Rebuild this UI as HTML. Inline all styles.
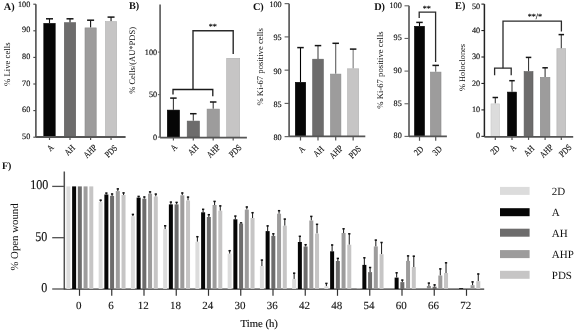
<!DOCTYPE html><html><head><meta charset="utf-8"><style>html,body{margin:0;padding:0;background:#fff;width:575px;height:330px;overflow:hidden}svg{display:block;will-change:transform}text{font-family:"Liberation Serif",serif;fill:#111;text-rendering:geometricPrecision}</style></head><body>
<svg width="575" height="330" viewBox="0 0 575 330">
<rect width="575" height="330" fill="#fff"/>
<text x="3.80" y="9.70" font-size="10.3" text-anchor="start" font-weight="bold">A)</text>
<line x1="35.90" y1="4.20" x2="35.90" y2="137.00" stroke="#444" stroke-width="1.5"/>
<line x1="33.30" y1="4.20" x2="35.90" y2="4.20" stroke="#444" stroke-width="1.1"/>
<text x="30.30" y="7.05" font-size="8.2" text-anchor="end" font-weight="normal" stroke="#111" stroke-width="0.15">100</text>
<line x1="33.30" y1="30.80" x2="35.90" y2="30.80" stroke="#444" stroke-width="1.1"/>
<text x="30.30" y="32.35" font-size="8.2" text-anchor="end" font-weight="normal" stroke="#111" stroke-width="0.15">90</text>
<line x1="33.30" y1="57.40" x2="35.90" y2="57.40" stroke="#444" stroke-width="1.1"/>
<text x="30.30" y="58.95" font-size="8.2" text-anchor="end" font-weight="normal" stroke="#111" stroke-width="0.15">80</text>
<line x1="33.30" y1="84.00" x2="35.90" y2="84.00" stroke="#444" stroke-width="1.1"/>
<text x="30.30" y="85.55" font-size="8.2" text-anchor="end" font-weight="normal" stroke="#111" stroke-width="0.15">70</text>
<line x1="33.30" y1="110.60" x2="35.90" y2="110.60" stroke="#444" stroke-width="1.1"/>
<text x="30.30" y="112.15" font-size="8.2" text-anchor="end" font-weight="normal" stroke="#111" stroke-width="0.15">60</text>
<line x1="33.30" y1="137.20" x2="35.90" y2="137.20" stroke="#444" stroke-width="1.1"/>
<text x="30.30" y="138.75" font-size="8.2" text-anchor="end" font-weight="normal" stroke="#111" stroke-width="0.15">50</text>
<text x="10.00" y="64.20" font-size="8.7" text-anchor="middle" font-weight="normal" transform="rotate(-90 10.00 64.20)">% Live cells</text>
<line x1="49.50" y1="18.80" x2="49.50" y2="23.10" stroke="#111" stroke-width="1.1"/>
<line x1="46.00" y1="18.80" x2="53.00" y2="18.80" stroke="#151515" stroke-width="1.5"/>
<rect x="43.80" y="23.40" width="11.40" height="113.60" fill="#060606" stroke="#000" stroke-width="0.6"/>
<line x1="70.00" y1="18.80" x2="70.00" y2="22.40" stroke="#111" stroke-width="1.1"/>
<line x1="66.50" y1="18.80" x2="73.50" y2="18.80" stroke="#151515" stroke-width="1.5"/>
<rect x="64.30" y="22.70" width="11.40" height="114.30" fill="#6d6c6c" stroke="#5c5c5c" stroke-width="0.6"/>
<line x1="90.60" y1="20.20" x2="90.60" y2="27.60" stroke="#111" stroke-width="1.1"/>
<line x1="87.10" y1="20.20" x2="94.10" y2="20.20" stroke="#151515" stroke-width="1.5"/>
<rect x="85.00" y="27.90" width="11.20" height="109.10" fill="#9d9c9c" stroke="#8a8a8a" stroke-width="0.6"/>
<line x1="111.05" y1="17.10" x2="111.05" y2="21.30" stroke="#111" stroke-width="1.1"/>
<line x1="107.55" y1="17.10" x2="114.55" y2="17.10" stroke="#151515" stroke-width="1.5"/>
<rect x="105.50" y="21.60" width="11.10" height="115.40" fill="#c6c5c5" stroke="#b0b0b0" stroke-width="0.6"/>
<line x1="35.90" y1="137.00" x2="125.60" y2="137.00" stroke="#555" stroke-width="1.8"/>
<line x1="49.50" y1="137.00" x2="49.50" y2="140.00" stroke="#555" stroke-width="1.2"/>
<text transform="translate(54.20 148.00) rotate(-45) scale(0.82,1)" font-size="9.0" text-anchor="end" stroke="#111" stroke-width="0.15">A</text>
<line x1="70.00" y1="137.00" x2="70.00" y2="140.00" stroke="#555" stroke-width="1.2"/>
<text transform="translate(75.50 148.40) rotate(-45) scale(0.82,1)" font-size="9.0" text-anchor="end" stroke="#111" stroke-width="0.15">AH</text>
<line x1="90.60" y1="137.00" x2="90.60" y2="140.00" stroke="#555" stroke-width="1.2"/>
<text transform="translate(97.50 148.00) rotate(-45) scale(0.82,1)" font-size="9.0" text-anchor="end" stroke="#111" stroke-width="0.15">AHP</text>
<line x1="111.05" y1="137.00" x2="111.05" y2="140.00" stroke="#555" stroke-width="1.2"/>
<text transform="translate(117.95 148.50) rotate(-45) scale(0.82,1)" font-size="9.0" text-anchor="end" stroke="#111" stroke-width="0.15">PDS</text>
<text x="129.00" y="9.30" font-size="10.3" text-anchor="start" font-weight="bold">B)</text>
<line x1="160.10" y1="4.50" x2="160.10" y2="137.60" stroke="#6a6a6a" stroke-width="1.8"/>
<line x1="157.90" y1="52.10" x2="160.10" y2="52.10" stroke="#6a6a6a" stroke-width="1.1"/>
<text x="157.10" y="54.65" font-size="8.2" text-anchor="end" font-weight="normal" stroke="#111" stroke-width="0.15">100</text>
<line x1="157.90" y1="94.60" x2="160.10" y2="94.60" stroke="#6a6a6a" stroke-width="1.1"/>
<text x="157.10" y="97.15" font-size="8.2" text-anchor="end" font-weight="normal" stroke="#111" stroke-width="0.15">50</text>
<line x1="157.90" y1="137.10" x2="160.10" y2="137.10" stroke="#6a6a6a" stroke-width="1.1"/>
<text x="157.10" y="139.65" font-size="8.2" text-anchor="end" font-weight="normal" stroke="#111" stroke-width="0.15">0</text>
<text x="135.50" y="60.40" font-size="8.5" text-anchor="middle" font-weight="normal" transform="rotate(-90 135.50 60.40)">% Cells/(AU*PDS)</text>
<line x1="173.40" y1="98.10" x2="173.40" y2="109.80" stroke="#3a3a3a" stroke-width="1.1"/>
<line x1="170.15" y1="98.10" x2="176.65" y2="98.10" stroke="#151515" stroke-width="1.5"/>
<rect x="167.30" y="110.10" width="12.20" height="27.00" fill="#060606" stroke="#000" stroke-width="0.6"/>
<line x1="193.30" y1="113.70" x2="193.30" y2="120.80" stroke="#3a3a3a" stroke-width="1.1"/>
<line x1="190.05" y1="113.70" x2="196.55" y2="113.70" stroke="#151515" stroke-width="1.5"/>
<rect x="187.20" y="121.10" width="12.20" height="16.00" fill="#6d6c6c" stroke="#5c5c5c" stroke-width="0.6"/>
<line x1="213.20" y1="102.00" x2="213.20" y2="108.80" stroke="#3a3a3a" stroke-width="1.1"/>
<line x1="209.95" y1="102.00" x2="216.45" y2="102.00" stroke="#151515" stroke-width="1.5"/>
<rect x="207.10" y="109.10" width="12.20" height="28.00" fill="#9d9c9c" stroke="#8a8a8a" stroke-width="0.6"/>
<rect x="226.70" y="58.30" width="13.00" height="78.80" fill="#c6c5c5" stroke="#b0b0b0" stroke-width="0.6"/>
<line x1="160.10" y1="137.60" x2="246.90" y2="137.60" stroke="#555" stroke-width="1.8"/>
<line x1="173.40" y1="137.60" x2="173.40" y2="140.60" stroke="#555" stroke-width="1.2"/>
<text transform="translate(177.80 147.80) rotate(-45) scale(0.82,1)" font-size="9.0" text-anchor="end" stroke="#111" stroke-width="0.15">A</text>
<line x1="193.30" y1="137.60" x2="193.30" y2="140.60" stroke="#555" stroke-width="1.2"/>
<text transform="translate(199.00 148.10) rotate(-45) scale(0.82,1)" font-size="9.0" text-anchor="end" stroke="#111" stroke-width="0.15">AH</text>
<line x1="213.20" y1="137.60" x2="213.20" y2="140.60" stroke="#555" stroke-width="1.2"/>
<text transform="translate(220.60 147.80) rotate(-45) scale(0.82,1)" font-size="9.0" text-anchor="end" stroke="#111" stroke-width="0.15">AHP</text>
<line x1="233.20" y1="137.60" x2="233.20" y2="140.60" stroke="#555" stroke-width="1.2"/>
<text transform="translate(242.10 148.10) rotate(-45) scale(0.82,1)" font-size="9.0" text-anchor="end" stroke="#111" stroke-width="0.15">PDS</text>
<polyline points="193,89.5 193,30.8 233.2,30.8 233.2,54" fill="none" stroke="#2a2a2a" stroke-width="1.4"/>
<polyline points="173,94.6 173,89.5 212.8,89.5 212.8,96.3" fill="none" stroke="#1a1a1a" stroke-width="1.3"/>
<text x="212.70" y="29.00" font-size="8" text-anchor="middle" font-weight="normal" stroke="#111" stroke-width="0.2">**</text>
<text x="252.90" y="9.70" font-size="10.3" text-anchor="start" font-weight="bold">C)</text>
<line x1="289.10" y1="3.65" x2="289.10" y2="136.30" stroke="#5a5a5a" stroke-width="1.7"/>
<line x1="284.60" y1="3.65" x2="289.10" y2="3.65" stroke="#5a5a5a" stroke-width="1.1"/>
<text x="281.70" y="7.20" font-size="8.2" text-anchor="end" font-weight="normal" stroke="#111" stroke-width="0.15">100</text>
<line x1="284.60" y1="36.90" x2="289.10" y2="36.90" stroke="#5a5a5a" stroke-width="1.1"/>
<text x="281.70" y="40.45" font-size="8.2" text-anchor="end" font-weight="normal" stroke="#111" stroke-width="0.15">95</text>
<line x1="284.60" y1="70.15" x2="289.10" y2="70.15" stroke="#5a5a5a" stroke-width="1.1"/>
<text x="281.70" y="73.70" font-size="8.2" text-anchor="end" font-weight="normal" stroke="#111" stroke-width="0.15">90</text>
<line x1="284.60" y1="103.40" x2="289.10" y2="103.40" stroke="#5a5a5a" stroke-width="1.1"/>
<text x="281.70" y="106.95" font-size="8.2" text-anchor="end" font-weight="normal" stroke="#111" stroke-width="0.15">85</text>
<line x1="284.60" y1="136.65" x2="289.10" y2="136.65" stroke="#5a5a5a" stroke-width="1.1"/>
<text x="281.70" y="140.20" font-size="8.2" text-anchor="end" font-weight="normal" stroke="#111" stroke-width="0.15">80</text>
<text x="263.30" y="66.80" font-size="8.7" text-anchor="middle" font-weight="normal" transform="rotate(-90 263.30 66.80)">% Ki-67 positive cells</text>
<line x1="300.50" y1="47.60" x2="300.50" y2="82.00" stroke="#000" stroke-width="1.1"/>
<line x1="297.25" y1="47.60" x2="303.75" y2="47.60" stroke="#151515" stroke-width="1.5"/>
<rect x="295.30" y="82.30" width="10.40" height="54.00" fill="#060606" stroke="#000" stroke-width="0.6"/>
<line x1="318.00" y1="45.60" x2="318.00" y2="58.90" stroke="#4a4a4a" stroke-width="1.1"/>
<line x1="314.75" y1="45.60" x2="321.25" y2="45.60" stroke="#151515" stroke-width="1.5"/>
<rect x="312.70" y="59.20" width="10.60" height="77.10" fill="#6d6c6c" stroke="#5c5c5c" stroke-width="0.6"/>
<line x1="335.70" y1="43.30" x2="335.70" y2="73.80" stroke="#5e5e5e" stroke-width="1.1"/>
<line x1="332.45" y1="43.30" x2="338.95" y2="43.30" stroke="#151515" stroke-width="1.5"/>
<rect x="330.50" y="74.10" width="10.40" height="62.20" fill="#9d9c9c" stroke="#8a8a8a" stroke-width="0.6"/>
<line x1="353.15" y1="49.10" x2="353.15" y2="68.50" stroke="#7a7a7a" stroke-width="1.1"/>
<line x1="349.90" y1="49.10" x2="356.40" y2="49.10" stroke="#151515" stroke-width="1.5"/>
<rect x="347.60" y="68.80" width="11.10" height="67.50" fill="#c6c5c5" stroke="#b0b0b0" stroke-width="0.6"/>
<line x1="289.10" y1="136.30" x2="365.30" y2="136.30" stroke="#555" stroke-width="1.8"/>
<line x1="300.50" y1="136.30" x2="300.50" y2="140.50" stroke="#555" stroke-width="1.2"/>
<text transform="translate(305.50 149.50) rotate(-45) scale(0.82,1)" font-size="9.0" text-anchor="end" stroke="#111" stroke-width="0.15">A</text>
<line x1="318.00" y1="136.30" x2="318.00" y2="140.50" stroke="#555" stroke-width="1.2"/>
<text transform="translate(324.40 149.80) rotate(-45) scale(0.82,1)" font-size="9.0" text-anchor="end" stroke="#111" stroke-width="0.15">AH</text>
<line x1="335.70" y1="136.30" x2="335.70" y2="140.50" stroke="#555" stroke-width="1.2"/>
<text transform="translate(343.50 148.80) rotate(-45) scale(0.82,1)" font-size="9.0" text-anchor="end" stroke="#111" stroke-width="0.15">AHP</text>
<line x1="353.15" y1="136.30" x2="353.15" y2="140.50" stroke="#555" stroke-width="1.2"/>
<text transform="translate(361.75 149.30) rotate(-45) scale(0.82,1)" font-size="9.0" text-anchor="end" stroke="#111" stroke-width="0.15">PDS</text>
<text x="374.20" y="9.70" font-size="10.3" text-anchor="start" font-weight="bold">D)</text>
<line x1="409.00" y1="5.80" x2="409.00" y2="136.30" stroke="#666" stroke-width="1.8"/>
<line x1="404.50" y1="5.80" x2="409.00" y2="5.80" stroke="#666" stroke-width="1.1"/>
<text x="401.80" y="7.55" font-size="8.2" text-anchor="end" font-weight="normal" stroke="#111" stroke-width="0.15">100</text>
<line x1="404.50" y1="38.45" x2="409.00" y2="38.45" stroke="#666" stroke-width="1.1"/>
<text x="401.80" y="40.20" font-size="8.2" text-anchor="end" font-weight="normal" stroke="#111" stroke-width="0.15">95</text>
<line x1="404.50" y1="71.10" x2="409.00" y2="71.10" stroke="#666" stroke-width="1.1"/>
<text x="401.80" y="72.85" font-size="8.2" text-anchor="end" font-weight="normal" stroke="#111" stroke-width="0.15">90</text>
<line x1="404.50" y1="103.75" x2="409.00" y2="103.75" stroke="#666" stroke-width="1.1"/>
<text x="401.80" y="105.50" font-size="8.2" text-anchor="end" font-weight="normal" stroke="#111" stroke-width="0.15">85</text>
<line x1="404.50" y1="136.40" x2="409.00" y2="136.40" stroke="#666" stroke-width="1.1"/>
<text x="401.80" y="138.15" font-size="8.2" text-anchor="end" font-weight="normal" stroke="#111" stroke-width="0.15">80</text>
<text x="382.80" y="70.00" font-size="8.7" text-anchor="middle" font-weight="normal" transform="rotate(-90 382.80 70.00)">% Ki-67 positive cells</text>
<line x1="419.50" y1="22.40" x2="419.50" y2="26.00" stroke="#000" stroke-width="1.1"/>
<line x1="416.25" y1="22.40" x2="422.75" y2="22.40" stroke="#151515" stroke-width="1.5"/>
<rect x="414.50" y="26.30" width="10.00" height="110.00" fill="#060606" stroke="#000" stroke-width="0.6"/>
<line x1="435.70" y1="65.40" x2="435.70" y2="71.80" stroke="#5e5e5e" stroke-width="1.1"/>
<line x1="432.45" y1="65.40" x2="438.95" y2="65.40" stroke="#151515" stroke-width="1.5"/>
<rect x="430.40" y="72.10" width="10.60" height="64.20" fill="#9d9c9c" stroke="#8a8a8a" stroke-width="0.6"/>
<line x1="409.00" y1="136.30" x2="446.90" y2="136.30" stroke="#555" stroke-width="1.8"/>
<line x1="419.50" y1="136.30" x2="419.50" y2="140.80" stroke="#555" stroke-width="1.2"/>
<text transform="translate(423.90 149.70) rotate(-45) scale(0.82,1)" font-size="9.0" text-anchor="end" stroke="#111" stroke-width="0.15">2D</text>
<line x1="435.70" y1="136.30" x2="435.70" y2="140.80" stroke="#555" stroke-width="1.2"/>
<text transform="translate(442.50 149.60) rotate(-45) scale(0.82,1)" font-size="9.0" text-anchor="end" stroke="#111" stroke-width="0.15">3D</text>
<polyline points="419.2,17.9 419.2,12.1 435.6,12.1 435.6,62" fill="none" stroke="#2a2a2a" stroke-width="1.3"/>
<text x="426.80" y="10.50" font-size="8" text-anchor="middle" font-weight="normal" stroke="#111" stroke-width="0.2">**</text>
<text x="455.10" y="9.20" font-size="10.3" text-anchor="start" font-weight="bold">E)</text>
<line x1="484.40" y1="4.10" x2="484.40" y2="136.90" stroke="#222" stroke-width="1.5"/>
<line x1="481.40" y1="4.10" x2="484.40" y2="4.10" stroke="#222" stroke-width="1.1"/>
<text x="480.20" y="8.55" font-size="8.2" text-anchor="end" font-weight="normal" stroke="#111" stroke-width="0.15">50</text>
<line x1="481.40" y1="30.55" x2="484.40" y2="30.55" stroke="#222" stroke-width="1.1"/>
<text x="480.20" y="32.60" font-size="8.2" text-anchor="end" font-weight="normal" stroke="#111" stroke-width="0.15">40</text>
<line x1="481.40" y1="57.00" x2="484.40" y2="57.00" stroke="#222" stroke-width="1.1"/>
<text x="480.20" y="59.05" font-size="8.2" text-anchor="end" font-weight="normal" stroke="#111" stroke-width="0.15">30</text>
<line x1="481.40" y1="83.45" x2="484.40" y2="83.45" stroke="#222" stroke-width="1.1"/>
<text x="480.20" y="85.50" font-size="8.2" text-anchor="end" font-weight="normal" stroke="#111" stroke-width="0.15">20</text>
<line x1="481.40" y1="109.90" x2="484.40" y2="109.90" stroke="#222" stroke-width="1.1"/>
<text x="480.20" y="111.95" font-size="8.2" text-anchor="end" font-weight="normal" stroke="#111" stroke-width="0.15">10</text>
<line x1="481.40" y1="136.35" x2="484.40" y2="136.35" stroke="#222" stroke-width="1.1"/>
<text x="480.20" y="138.40" font-size="8.2" text-anchor="end" font-weight="normal" stroke="#111" stroke-width="0.15">0</text>
<text x="464.70" y="67.50" font-size="8.4" text-anchor="middle" font-weight="normal" transform="rotate(-90 464.70 67.50)">% Holoclones</text>
<line x1="495.30" y1="97.50" x2="495.30" y2="103.60" stroke="#3a3a3a" stroke-width="1.1"/>
<line x1="492.55" y1="97.50" x2="498.05" y2="97.50" stroke="#151515" stroke-width="1.5"/>
<rect x="491.00" y="103.90" width="8.60" height="32.40" fill="#dcdcdc" stroke="#c8c8c8" stroke-width="0.6"/>
<line x1="512.00" y1="80.70" x2="512.00" y2="91.80" stroke="#3a3a3a" stroke-width="1.1"/>
<line x1="509.25" y1="80.70" x2="514.75" y2="80.70" stroke="#151515" stroke-width="1.5"/>
<rect x="507.50" y="92.10" width="9.00" height="44.20" fill="#060606" stroke="#000" stroke-width="0.6"/>
<line x1="528.55" y1="57.40" x2="528.55" y2="71.30" stroke="#3a3a3a" stroke-width="1.1"/>
<line x1="525.80" y1="57.40" x2="531.30" y2="57.40" stroke="#151515" stroke-width="1.5"/>
<rect x="524.10" y="71.60" width="8.90" height="64.70" fill="#6d6c6c" stroke="#5c5c5c" stroke-width="0.6"/>
<line x1="545.10" y1="67.80" x2="545.10" y2="77.00" stroke="#3a3a3a" stroke-width="1.1"/>
<line x1="542.35" y1="67.80" x2="547.85" y2="67.80" stroke="#151515" stroke-width="1.5"/>
<rect x="540.30" y="77.30" width="9.60" height="59.00" fill="#9d9c9c" stroke="#8a8a8a" stroke-width="0.6"/>
<line x1="561.30" y1="34.60" x2="561.30" y2="48.40" stroke="#3a3a3a" stroke-width="1.1"/>
<line x1="558.55" y1="34.60" x2="564.05" y2="34.60" stroke="#151515" stroke-width="1.5"/>
<rect x="556.90" y="48.70" width="8.80" height="87.60" fill="#c6c5c5" stroke="#b0b0b0" stroke-width="0.6"/>
<line x1="484.40" y1="136.90" x2="573.20" y2="136.90" stroke="#555" stroke-width="1.8"/>
<line x1="495.30" y1="136.90" x2="495.30" y2="139.90" stroke="#555" stroke-width="1.2"/>
<text transform="translate(500.30 148.90) rotate(-45) scale(0.82,1)" font-size="9.0" text-anchor="end" stroke="#111" stroke-width="0.15">2D</text>
<line x1="512.00" y1="136.90" x2="512.00" y2="139.90" stroke="#555" stroke-width="1.2"/>
<text transform="translate(516.70 147.90) rotate(-45) scale(0.82,1)" font-size="9.0" text-anchor="end" stroke="#111" stroke-width="0.15">A</text>
<line x1="528.55" y1="136.90" x2="528.55" y2="139.90" stroke="#555" stroke-width="1.2"/>
<text transform="translate(534.75 149.10) rotate(-45) scale(0.82,1)" font-size="9.0" text-anchor="end" stroke="#111" stroke-width="0.15">AH</text>
<line x1="545.10" y1="136.90" x2="545.10" y2="139.90" stroke="#555" stroke-width="1.2"/>
<text transform="translate(553.60 147.90) rotate(-45) scale(0.82,1)" font-size="9.0" text-anchor="end" stroke="#111" stroke-width="0.15">AHP</text>
<line x1="561.30" y1="136.90" x2="561.30" y2="139.90" stroke="#555" stroke-width="1.2"/>
<text transform="translate(572.20 147.90) rotate(-45) scale(0.82,1)" font-size="9.0" text-anchor="end" stroke="#111" stroke-width="0.15">PDS</text>
<polyline points="561.4,31.5 561.4,21.1 503,21.1 503,68.2" fill="none" stroke="#2a2a2a" stroke-width="1.3"/>
<polyline points="494.6,75.3 494.6,68.2 511.2,68.2 511.2,75.3" fill="none" stroke="#2a2a2a" stroke-width="1.3"/>
<text x="534.80" y="18.50" font-size="8" text-anchor="middle" font-weight="normal" stroke="#111" stroke-width="0.2">**/*</text>
<text x="2.00" y="168.80" font-size="10.0" text-anchor="start" font-weight="bold">F)</text>
<line x1="64.30" y1="171.50" x2="64.30" y2="289.60" stroke="#505050" stroke-width="1.5"/>
<line x1="52.20" y1="186.40" x2="64.30" y2="186.40" stroke="#505050" stroke-width="1.3"/>
<text transform="translate(48.3 189.40) scale(0.9,1)" font-size="13.4" text-anchor="end" stroke="#111" stroke-width="0.15">100</text>
<line x1="52.20" y1="237.70" x2="64.30" y2="237.70" stroke="#505050" stroke-width="1.3"/>
<text transform="translate(47.2 240.70) scale(0.9,1)" font-size="13.4" text-anchor="end" stroke="#111" stroke-width="0.15">50</text>
<line x1="52.20" y1="289.00" x2="64.30" y2="289.00" stroke="#505050" stroke-width="1.3"/>
<text transform="translate(47.2 292.00) scale(0.9,1)" font-size="13.4" text-anchor="end" stroke="#111" stroke-width="0.15">0</text>
<text x="17.50" y="237.00" font-size="10.8" text-anchor="middle" font-weight="normal" transform="rotate(-90 17.50 237.00)">% Open wound</text>
<line x1="64.30" y1="289.10" x2="484.20" y2="289.10" stroke="#333" stroke-width="1.3"/>
<line x1="79.50" y1="289.10" x2="79.50" y2="295.80" stroke="#333" stroke-width="1.2"/>
<text x="78.70" y="309.30" font-size="11.0" text-anchor="middle" font-weight="normal" stroke="#111" stroke-width="0.12">0</text>
<line x1="111.75" y1="289.10" x2="111.75" y2="295.80" stroke="#333" stroke-width="1.2"/>
<text x="110.95" y="309.30" font-size="11.0" text-anchor="middle" font-weight="normal" stroke="#111" stroke-width="0.12">6</text>
<line x1="144.00" y1="289.10" x2="144.00" y2="295.80" stroke="#333" stroke-width="1.2"/>
<text x="143.20" y="309.30" font-size="11.0" text-anchor="middle" font-weight="normal" stroke="#111" stroke-width="0.12">12</text>
<line x1="176.25" y1="289.10" x2="176.25" y2="295.80" stroke="#333" stroke-width="1.2"/>
<text x="175.45" y="309.30" font-size="11.0" text-anchor="middle" font-weight="normal" stroke="#111" stroke-width="0.12">18</text>
<line x1="208.50" y1="289.10" x2="208.50" y2="295.80" stroke="#333" stroke-width="1.2"/>
<text x="207.70" y="309.30" font-size="11.0" text-anchor="middle" font-weight="normal" stroke="#111" stroke-width="0.12">24</text>
<line x1="240.75" y1="289.10" x2="240.75" y2="295.80" stroke="#333" stroke-width="1.2"/>
<text x="239.95" y="309.30" font-size="11.0" text-anchor="middle" font-weight="normal" stroke="#111" stroke-width="0.12">30</text>
<line x1="273.00" y1="289.10" x2="273.00" y2="295.80" stroke="#333" stroke-width="1.2"/>
<text x="272.20" y="309.30" font-size="11.0" text-anchor="middle" font-weight="normal" stroke="#111" stroke-width="0.12">36</text>
<line x1="305.25" y1="289.10" x2="305.25" y2="295.80" stroke="#333" stroke-width="1.2"/>
<text x="304.45" y="309.30" font-size="11.0" text-anchor="middle" font-weight="normal" stroke="#111" stroke-width="0.12">42</text>
<line x1="337.50" y1="289.10" x2="337.50" y2="295.80" stroke="#333" stroke-width="1.2"/>
<text x="336.70" y="309.30" font-size="11.0" text-anchor="middle" font-weight="normal" stroke="#111" stroke-width="0.12">48</text>
<line x1="369.75" y1="289.10" x2="369.75" y2="295.80" stroke="#333" stroke-width="1.2"/>
<text x="368.95" y="309.30" font-size="11.0" text-anchor="middle" font-weight="normal" stroke="#111" stroke-width="0.12">54</text>
<line x1="402.00" y1="289.10" x2="402.00" y2="295.80" stroke="#333" stroke-width="1.2"/>
<text x="401.20" y="309.30" font-size="11.0" text-anchor="middle" font-weight="normal" stroke="#111" stroke-width="0.12">60</text>
<line x1="434.25" y1="289.10" x2="434.25" y2="295.80" stroke="#333" stroke-width="1.2"/>
<text x="433.45" y="309.30" font-size="11.0" text-anchor="middle" font-weight="normal" stroke="#111" stroke-width="0.12">66</text>
<line x1="466.50" y1="289.10" x2="466.50" y2="295.80" stroke="#333" stroke-width="1.2"/>
<text x="465.70" y="309.30" font-size="11.0" text-anchor="middle" font-weight="normal" stroke="#111" stroke-width="0.12">72</text>
<text x="259.20" y="326.50" font-size="10.7" text-anchor="middle" font-weight="normal" stroke="#111" stroke-width="0.15">Time (h)</text>
<rect x="66.40" y="186.40" width="4.00" height="102.60" fill="#dcdcdc"/>
<rect x="72.12" y="186.40" width="4.00" height="102.60" fill="#060606"/>
<rect x="77.84" y="186.40" width="4.00" height="102.60" fill="#6d6c6c"/>
<rect x="83.56" y="186.40" width="4.00" height="102.60" fill="#9d9c9c"/>
<rect x="89.28" y="186.40" width="4.00" height="102.60" fill="#c6c5c5"/>
<line x1="100.65" y1="199.80" x2="100.65" y2="201.80" stroke="#2a2a2a" stroke-width="1.1"/>
<line x1="99.50" y1="200.20" x2="101.80" y2="200.20" stroke="#111" stroke-width="1.5"/>
<rect x="98.65" y="201.80" width="4.00" height="87.20" fill="#dcdcdc"/>
<line x1="106.37" y1="192.70" x2="106.37" y2="194.50" stroke="#2a2a2a" stroke-width="1.1"/>
<line x1="105.22" y1="193.10" x2="107.52" y2="193.10" stroke="#111" stroke-width="1.5"/>
<rect x="104.37" y="194.50" width="4.00" height="94.50" fill="#060606"/>
<line x1="112.09" y1="193.60" x2="112.09" y2="195.90" stroke="#2a2a2a" stroke-width="1.1"/>
<line x1="110.94" y1="194.00" x2="113.24" y2="194.00" stroke="#111" stroke-width="1.5"/>
<rect x="110.09" y="195.90" width="4.00" height="93.10" fill="#6d6c6c"/>
<line x1="117.81" y1="188.50" x2="117.81" y2="191.10" stroke="#2a2a2a" stroke-width="1.1"/>
<line x1="116.66" y1="188.90" x2="118.96" y2="188.90" stroke="#111" stroke-width="1.5"/>
<rect x="115.81" y="191.10" width="4.00" height="97.90" fill="#9d9c9c"/>
<line x1="123.53" y1="192.50" x2="123.53" y2="195.00" stroke="#2a2a2a" stroke-width="1.1"/>
<line x1="122.38" y1="192.90" x2="124.68" y2="192.90" stroke="#111" stroke-width="1.5"/>
<rect x="121.53" y="195.00" width="4.00" height="94.00" fill="#c6c5c5"/>
<line x1="132.90" y1="214.00" x2="132.90" y2="216.30" stroke="#2a2a2a" stroke-width="1.1"/>
<line x1="131.75" y1="214.40" x2="134.05" y2="214.40" stroke="#111" stroke-width="1.5"/>
<rect x="130.90" y="216.30" width="4.00" height="72.70" fill="#dcdcdc"/>
<line x1="138.62" y1="196.00" x2="138.62" y2="197.60" stroke="#2a2a2a" stroke-width="1.1"/>
<line x1="137.47" y1="196.40" x2="139.77" y2="196.40" stroke="#111" stroke-width="1.5"/>
<rect x="136.62" y="197.60" width="4.00" height="91.40" fill="#060606"/>
<line x1="144.34" y1="196.60" x2="144.34" y2="198.70" stroke="#2a2a2a" stroke-width="1.1"/>
<line x1="143.19" y1="197.00" x2="145.49" y2="197.00" stroke="#111" stroke-width="1.5"/>
<rect x="142.34" y="198.70" width="4.00" height="90.30" fill="#6d6c6c"/>
<line x1="150.06" y1="191.50" x2="150.06" y2="193.70" stroke="#2a2a2a" stroke-width="1.1"/>
<line x1="148.91" y1="191.90" x2="151.21" y2="191.90" stroke="#111" stroke-width="1.5"/>
<rect x="148.06" y="193.70" width="4.00" height="95.30" fill="#9d9c9c"/>
<line x1="155.78" y1="193.70" x2="155.78" y2="196.50" stroke="#2a2a2a" stroke-width="1.1"/>
<line x1="154.63" y1="194.10" x2="156.93" y2="194.10" stroke="#111" stroke-width="1.5"/>
<rect x="153.78" y="196.50" width="4.00" height="92.50" fill="#c6c5c5"/>
<line x1="165.15" y1="225.40" x2="165.15" y2="229.20" stroke="#2a2a2a" stroke-width="1.1"/>
<line x1="164.00" y1="225.80" x2="166.30" y2="225.80" stroke="#111" stroke-width="1.5"/>
<rect x="163.15" y="229.20" width="4.00" height="59.80" fill="#dcdcdc"/>
<line x1="170.87" y1="201.70" x2="170.87" y2="204.40" stroke="#2a2a2a" stroke-width="1.1"/>
<line x1="169.72" y1="202.10" x2="172.02" y2="202.10" stroke="#111" stroke-width="1.5"/>
<rect x="168.87" y="204.40" width="4.00" height="84.60" fill="#060606"/>
<line x1="176.59" y1="202.00" x2="176.59" y2="204.40" stroke="#2a2a2a" stroke-width="1.1"/>
<line x1="175.44" y1="202.40" x2="177.74" y2="202.40" stroke="#111" stroke-width="1.5"/>
<rect x="174.59" y="204.40" width="4.00" height="84.60" fill="#6d6c6c"/>
<line x1="182.31" y1="192.60" x2="182.31" y2="195.30" stroke="#2a2a2a" stroke-width="1.1"/>
<line x1="181.16" y1="193.00" x2="183.46" y2="193.00" stroke="#111" stroke-width="1.5"/>
<rect x="180.31" y="195.30" width="4.00" height="93.70" fill="#9d9c9c"/>
<line x1="188.03" y1="196.70" x2="188.03" y2="200.50" stroke="#2a2a2a" stroke-width="1.1"/>
<line x1="186.88" y1="197.10" x2="189.18" y2="197.10" stroke="#111" stroke-width="1.5"/>
<rect x="186.03" y="200.50" width="4.00" height="88.50" fill="#c6c5c5"/>
<line x1="197.40" y1="236.30" x2="197.40" y2="241.80" stroke="#2a2a2a" stroke-width="1.1"/>
<line x1="196.25" y1="236.70" x2="198.55" y2="236.70" stroke="#111" stroke-width="1.5"/>
<rect x="195.40" y="241.80" width="4.00" height="47.20" fill="#dcdcdc"/>
<line x1="203.12" y1="208.90" x2="203.12" y2="212.30" stroke="#2a2a2a" stroke-width="1.1"/>
<line x1="201.97" y1="209.30" x2="204.27" y2="209.30" stroke="#111" stroke-width="1.5"/>
<rect x="201.12" y="212.30" width="4.00" height="76.70" fill="#060606"/>
<line x1="208.84" y1="214.30" x2="208.84" y2="217.00" stroke="#2a2a2a" stroke-width="1.1"/>
<line x1="207.69" y1="214.70" x2="209.99" y2="214.70" stroke="#111" stroke-width="1.5"/>
<rect x="206.84" y="217.00" width="4.00" height="72.00" fill="#6d6c6c"/>
<line x1="214.56" y1="201.00" x2="214.56" y2="205.00" stroke="#2a2a2a" stroke-width="1.1"/>
<line x1="213.41" y1="201.40" x2="215.71" y2="201.40" stroke="#111" stroke-width="1.5"/>
<rect x="212.56" y="205.00" width="4.00" height="84.00" fill="#9d9c9c"/>
<line x1="220.28" y1="205.50" x2="220.28" y2="210.70" stroke="#2a2a2a" stroke-width="1.1"/>
<line x1="219.13" y1="205.90" x2="221.43" y2="205.90" stroke="#111" stroke-width="1.5"/>
<rect x="218.28" y="210.70" width="4.00" height="78.30" fill="#c6c5c5"/>
<line x1="229.65" y1="250.30" x2="229.65" y2="253.70" stroke="#2a2a2a" stroke-width="1.1"/>
<line x1="228.50" y1="250.70" x2="230.80" y2="250.70" stroke="#111" stroke-width="1.5"/>
<rect x="227.65" y="253.70" width="4.00" height="35.30" fill="#dcdcdc"/>
<line x1="235.37" y1="215.70" x2="235.37" y2="219.30" stroke="#2a2a2a" stroke-width="1.1"/>
<line x1="234.22" y1="216.10" x2="236.52" y2="216.10" stroke="#111" stroke-width="1.5"/>
<rect x="233.37" y="219.30" width="4.00" height="69.70" fill="#060606"/>
<line x1="241.09" y1="222.50" x2="241.09" y2="223.60" stroke="#2a2a2a" stroke-width="1.1"/>
<line x1="239.94" y1="222.90" x2="242.24" y2="222.90" stroke="#111" stroke-width="1.5"/>
<rect x="239.09" y="223.60" width="4.00" height="65.40" fill="#6d6c6c"/>
<line x1="246.81" y1="206.60" x2="246.81" y2="209.60" stroke="#2a2a2a" stroke-width="1.1"/>
<line x1="245.66" y1="207.00" x2="247.96" y2="207.00" stroke="#111" stroke-width="1.5"/>
<rect x="244.81" y="209.60" width="4.00" height="79.40" fill="#9d9c9c"/>
<line x1="252.53" y1="212.30" x2="252.53" y2="218.00" stroke="#2a2a2a" stroke-width="1.1"/>
<line x1="251.38" y1="212.70" x2="253.68" y2="212.70" stroke="#111" stroke-width="1.5"/>
<rect x="250.53" y="218.00" width="4.00" height="71.00" fill="#c6c5c5"/>
<line x1="261.90" y1="259.70" x2="261.90" y2="266.00" stroke="#2a2a2a" stroke-width="1.1"/>
<line x1="260.75" y1="260.10" x2="263.05" y2="260.10" stroke="#111" stroke-width="1.5"/>
<rect x="259.90" y="266.00" width="4.00" height="23.00" fill="#dcdcdc"/>
<line x1="267.62" y1="225.50" x2="267.62" y2="231.10" stroke="#2a2a2a" stroke-width="1.1"/>
<line x1="266.47" y1="225.90" x2="268.77" y2="225.90" stroke="#111" stroke-width="1.5"/>
<rect x="265.62" y="231.10" width="4.00" height="57.90" fill="#060606"/>
<line x1="273.34" y1="233.40" x2="273.34" y2="235.90" stroke="#2a2a2a" stroke-width="1.1"/>
<line x1="272.19" y1="233.80" x2="274.49" y2="233.80" stroke="#111" stroke-width="1.5"/>
<rect x="271.34" y="235.90" width="4.00" height="53.10" fill="#6d6c6c"/>
<line x1="279.06" y1="210.30" x2="279.06" y2="213.70" stroke="#2a2a2a" stroke-width="1.1"/>
<line x1="277.91" y1="210.70" x2="280.21" y2="210.70" stroke="#111" stroke-width="1.5"/>
<rect x="277.06" y="213.70" width="4.00" height="75.30" fill="#9d9c9c"/>
<line x1="284.78" y1="218.70" x2="284.78" y2="225.70" stroke="#2a2a2a" stroke-width="1.1"/>
<line x1="283.63" y1="219.10" x2="285.93" y2="219.10" stroke="#111" stroke-width="1.5"/>
<rect x="282.78" y="225.70" width="4.00" height="63.30" fill="#c6c5c5"/>
<line x1="294.15" y1="272.80" x2="294.15" y2="278.90" stroke="#2a2a2a" stroke-width="1.1"/>
<line x1="293.00" y1="273.20" x2="295.30" y2="273.20" stroke="#111" stroke-width="1.5"/>
<rect x="292.15" y="278.90" width="4.00" height="10.10" fill="#dcdcdc"/>
<line x1="299.87" y1="235.90" x2="299.87" y2="242.00" stroke="#2a2a2a" stroke-width="1.1"/>
<line x1="298.72" y1="236.30" x2="301.02" y2="236.30" stroke="#111" stroke-width="1.5"/>
<rect x="297.87" y="242.00" width="4.00" height="47.00" fill="#060606"/>
<line x1="305.59" y1="244.30" x2="305.59" y2="246.50" stroke="#2a2a2a" stroke-width="1.1"/>
<line x1="304.44" y1="244.70" x2="306.74" y2="244.70" stroke="#111" stroke-width="1.5"/>
<rect x="303.59" y="246.50" width="4.00" height="42.50" fill="#6d6c6c"/>
<line x1="311.31" y1="216.00" x2="311.31" y2="220.50" stroke="#2a2a2a" stroke-width="1.1"/>
<line x1="310.16" y1="216.40" x2="312.46" y2="216.40" stroke="#111" stroke-width="1.5"/>
<rect x="309.31" y="220.50" width="4.00" height="68.50" fill="#9d9c9c"/>
<line x1="317.03" y1="223.90" x2="317.03" y2="233.60" stroke="#2a2a2a" stroke-width="1.1"/>
<line x1="315.88" y1="224.30" x2="318.18" y2="224.30" stroke="#111" stroke-width="1.5"/>
<rect x="315.03" y="233.60" width="4.00" height="55.40" fill="#c6c5c5"/>
<line x1="326.40" y1="283.00" x2="326.40" y2="286.30" stroke="#2a2a2a" stroke-width="1.1"/>
<line x1="325.25" y1="283.40" x2="327.55" y2="283.40" stroke="#111" stroke-width="1.5"/>
<rect x="324.40" y="286.30" width="4.00" height="2.70" fill="#dcdcdc"/>
<line x1="332.12" y1="244.60" x2="332.12" y2="251.30" stroke="#2a2a2a" stroke-width="1.1"/>
<line x1="330.97" y1="245.00" x2="333.27" y2="245.00" stroke="#111" stroke-width="1.5"/>
<rect x="330.12" y="251.30" width="4.00" height="37.70" fill="#060606"/>
<line x1="337.84" y1="258.00" x2="337.84" y2="261.00" stroke="#2a2a2a" stroke-width="1.1"/>
<line x1="336.69" y1="258.40" x2="338.99" y2="258.40" stroke="#111" stroke-width="1.5"/>
<rect x="335.84" y="261.00" width="4.00" height="28.00" fill="#6d6c6c"/>
<line x1="343.56" y1="228.40" x2="343.56" y2="233.00" stroke="#2a2a2a" stroke-width="1.1"/>
<line x1="342.41" y1="228.80" x2="344.71" y2="228.80" stroke="#111" stroke-width="1.5"/>
<rect x="341.56" y="233.00" width="4.00" height="56.00" fill="#9d9c9c"/>
<line x1="349.28" y1="233.40" x2="349.28" y2="244.70" stroke="#2a2a2a" stroke-width="1.1"/>
<line x1="348.13" y1="233.80" x2="350.43" y2="233.80" stroke="#111" stroke-width="1.5"/>
<rect x="347.28" y="244.70" width="4.00" height="44.30" fill="#c6c5c5"/>
<rect x="356.65" y="288.60" width="4.00" height="0.40" fill="#dcdcdc"/>
<line x1="364.37" y1="257.40" x2="364.37" y2="264.90" stroke="#2a2a2a" stroke-width="1.1"/>
<line x1="363.22" y1="257.80" x2="365.52" y2="257.80" stroke="#111" stroke-width="1.5"/>
<rect x="362.37" y="264.90" width="4.00" height="24.10" fill="#060606"/>
<line x1="370.09" y1="267.10" x2="370.09" y2="272.10" stroke="#2a2a2a" stroke-width="1.1"/>
<line x1="368.94" y1="267.50" x2="371.24" y2="267.50" stroke="#111" stroke-width="1.5"/>
<rect x="368.09" y="272.10" width="4.00" height="16.90" fill="#6d6c6c"/>
<line x1="375.81" y1="239.70" x2="375.81" y2="246.40" stroke="#2a2a2a" stroke-width="1.1"/>
<line x1="374.66" y1="240.10" x2="376.96" y2="240.10" stroke="#111" stroke-width="1.5"/>
<rect x="373.81" y="246.40" width="4.00" height="42.60" fill="#9d9c9c"/>
<line x1="381.53" y1="242.10" x2="381.53" y2="254.20" stroke="#2a2a2a" stroke-width="1.1"/>
<line x1="380.38" y1="242.50" x2="382.68" y2="242.50" stroke="#111" stroke-width="1.5"/>
<rect x="379.53" y="254.20" width="4.00" height="34.80" fill="#c6c5c5"/>
<line x1="396.62" y1="272.40" x2="396.62" y2="277.60" stroke="#2a2a2a" stroke-width="1.1"/>
<line x1="395.47" y1="272.80" x2="397.77" y2="272.80" stroke="#111" stroke-width="1.5"/>
<rect x="394.62" y="277.60" width="4.00" height="11.40" fill="#060606"/>
<line x1="402.34" y1="279.70" x2="402.34" y2="282.10" stroke="#2a2a2a" stroke-width="1.1"/>
<line x1="401.19" y1="280.10" x2="403.49" y2="280.10" stroke="#111" stroke-width="1.5"/>
<rect x="400.34" y="282.10" width="4.00" height="6.90" fill="#6d6c6c"/>
<line x1="408.06" y1="255.50" x2="408.06" y2="260.90" stroke="#2a2a2a" stroke-width="1.1"/>
<line x1="406.91" y1="255.90" x2="409.21" y2="255.90" stroke="#111" stroke-width="1.5"/>
<rect x="406.06" y="260.90" width="4.00" height="28.10" fill="#9d9c9c"/>
<line x1="413.78" y1="255.80" x2="413.78" y2="267.00" stroke="#2a2a2a" stroke-width="1.1"/>
<line x1="412.63" y1="256.20" x2="414.93" y2="256.20" stroke="#111" stroke-width="1.5"/>
<rect x="411.78" y="267.00" width="4.00" height="22.00" fill="#c6c5c5"/>
<line x1="428.87" y1="282.70" x2="428.87" y2="286.00" stroke="#2a2a2a" stroke-width="1.1"/>
<line x1="427.72" y1="283.10" x2="430.02" y2="283.10" stroke="#111" stroke-width="1.5"/>
<rect x="426.87" y="286.00" width="4.00" height="3.00" fill="#8a8a8a"/>
<line x1="434.59" y1="284.50" x2="434.59" y2="286.70" stroke="#2a2a2a" stroke-width="1.1"/>
<line x1="433.44" y1="284.90" x2="435.74" y2="284.90" stroke="#111" stroke-width="1.5"/>
<rect x="432.59" y="286.70" width="4.00" height="2.30" fill="#6d6c6c"/>
<line x1="440.31" y1="268.50" x2="440.31" y2="275.50" stroke="#2a2a2a" stroke-width="1.1"/>
<line x1="439.16" y1="268.90" x2="441.46" y2="268.90" stroke="#111" stroke-width="1.5"/>
<rect x="438.31" y="275.50" width="4.00" height="13.50" fill="#9d9c9c"/>
<line x1="446.03" y1="262.40" x2="446.03" y2="273.00" stroke="#2a2a2a" stroke-width="1.1"/>
<line x1="444.88" y1="262.80" x2="447.18" y2="262.80" stroke="#111" stroke-width="1.5"/>
<rect x="444.03" y="273.00" width="4.00" height="16.00" fill="#c6c5c5"/>
<rect x="459.12" y="288.20" width="4.00" height="0.80" fill="#060606"/>
<line x1="472.56" y1="281.50" x2="472.56" y2="285.20" stroke="#2a2a2a" stroke-width="1.1"/>
<line x1="471.41" y1="281.90" x2="473.71" y2="281.90" stroke="#111" stroke-width="1.5"/>
<rect x="470.56" y="285.20" width="4.00" height="3.80" fill="#9d9c9c"/>
<line x1="478.28" y1="273.60" x2="478.28" y2="281.20" stroke="#2a2a2a" stroke-width="1.1"/>
<line x1="477.13" y1="274.00" x2="479.43" y2="274.00" stroke="#111" stroke-width="1.5"/>
<rect x="476.28" y="281.20" width="4.00" height="7.80" fill="#c6c5c5"/>
<rect x="500.00" y="186.90" width="29.60" height="8.00" fill="#dcdcdc"/>
<text x="551.80" y="194.90" font-size="11" text-anchor="start" font-weight="normal">2D</text>
<rect x="500.00" y="208.20" width="29.60" height="8.00" fill="#060606"/>
<text x="551.80" y="216.20" font-size="11" text-anchor="start" font-weight="normal">A</text>
<rect x="500.00" y="228.70" width="29.60" height="8.00" fill="#6d6c6c"/>
<text x="551.80" y="236.70" font-size="11" text-anchor="start" font-weight="normal">AH</text>
<rect x="500.00" y="250.10" width="29.60" height="8.00" fill="#9d9c9c"/>
<text x="551.80" y="258.10" font-size="11" text-anchor="start" font-weight="normal">AHP</text>
<rect x="500.00" y="270.80" width="29.60" height="8.00" fill="#c6c5c5"/>
<text x="551.80" y="278.80" font-size="11" text-anchor="start" font-weight="normal">PDS</text>
</svg></body></html>
